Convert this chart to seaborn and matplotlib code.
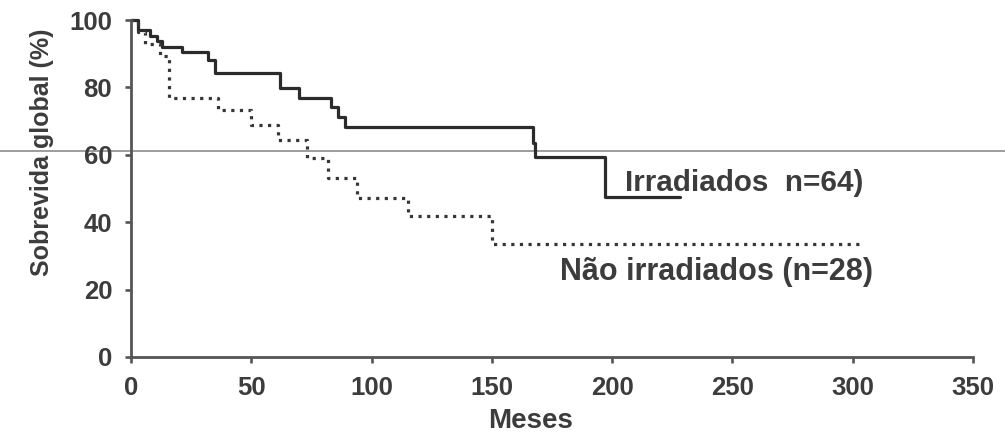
import matplotlib
matplotlib.use("Agg")
import matplotlib.pyplot as plt
import matplotlib.lines as mlines
import seaborn as sns
import pandas as pd

# ---- data ----
irr_time = [0, 3, 8, 11, 13, 21, 32, 35, 62, 70, 83, 86, 89, 167, 168, 197, 228]
irr_surv = [100, 97.0, 95.3, 93.7, 92.0, 90.5, 88.0, 84.2, 79.7, 76.8, 74.3, 71.3, 68.3, 63.6, 59.4, 47.6, 47.6]

nir_time = [0, 3, 6, 12, 16, 36, 50, 61, 73, 82, 94, 115, 150, 303]
nir_surv = [100, 96.4, 92.9, 89.3, 76.8, 73.3, 68.8, 64.4, 59.0, 53.0, 47.1, 41.7, 33.4, 33.4]

x_ticks = [0, 50, 100, 150, 200, 250, 300, 350]
y_ticks = [0, 20, 40, 60, 80, 100]

label_irr = "Irradiados  n=64)"
label_nir = "Não irradiados (n=28)"
x_label = "Meses"
y_label = "Sobrevida global (%)"

df_irr = pd.DataFrame({"t": irr_time, "s": irr_surv})
df_nir = pd.DataFrame({"t": nir_time, "s": nir_surv})

sns.set_style("white")
plt.rcParams["font.family"] = ["Liberation Sans", "DejaVu Sans"]
plt.rcParams["font.weight"] = "bold"

fig = plt.figure(figsize=(10.05, 4.34), dpi=100)
ax = fig.add_axes([131 / 1005, 1 - 357 / 434, 842 / 1005, 337 / 434])
ax.patch.set_alpha(0)

# scan artefact line across the whole picture
fig.add_artist(mlines.Line2D([0, 1], [1 - 151 / 434, 1 - 151 / 434],
                             transform=fig.transFigure, color="#8c8c8c",
                             lw=1.2, zorder=-5))

line_col = "#2b2b2b"
sns.lineplot(data=df_irr, x="t", y="s", ax=ax, drawstyle="steps-post",
             estimator=None, sort=False, color=line_col, lw=2.3,
             clip_on=False)
sns.lineplot(data=df_nir, x="t", y="s", ax=ax, drawstyle="steps-post",
             estimator=None, sort=False, color="#363636", lw=2.3,
             linestyle=(0, (1, 1.7)), clip_on=False)

ax.set_xlim(0, 350)
ax.set_ylim(0, 100)
ax.set_xticks(x_ticks)
ax.set_yticks(y_ticks)

txt_col = "#3c3c3c"
spine_col = "#555555"
for side in ["top", "right"]:
    ax.spines[side].set_visible(False)
for side in ["left", "bottom"]:
    ax.spines[side].set_color(spine_col)
    ax.spines[side].set_linewidth(2.0)

ax.tick_params(axis="both", direction="out", length=4.5, width=1.9,
               color=spine_col, labelsize=18.5, labelcolor=txt_col, pad=9,
               left=True, bottom=True)
for lab in ax.get_xticklabels() + ax.get_yticklabels():
    lab.set_fontweight("bold")

ax.set_xlabel(x_label, fontsize=20, fontweight="bold", color=txt_col)
ax.set_ylabel(y_label, fontsize=18, fontweight="bold", color=txt_col)
ax.xaxis.set_label_coords(0.474, -0.152)
ax.yaxis.set_label_coords(-0.092, 0.607)

ax.text(205.5, 51.6, label_irr, fontsize=21.3, fontweight="bold",
        color=txt_col, ha="left", va="center")
ax.text(178.3, 25.2, label_nir, fontsize=22, fontweight="bold",
        color=txt_col, ha="left", va="center")

fig.savefig("out.png", dpi=100)
